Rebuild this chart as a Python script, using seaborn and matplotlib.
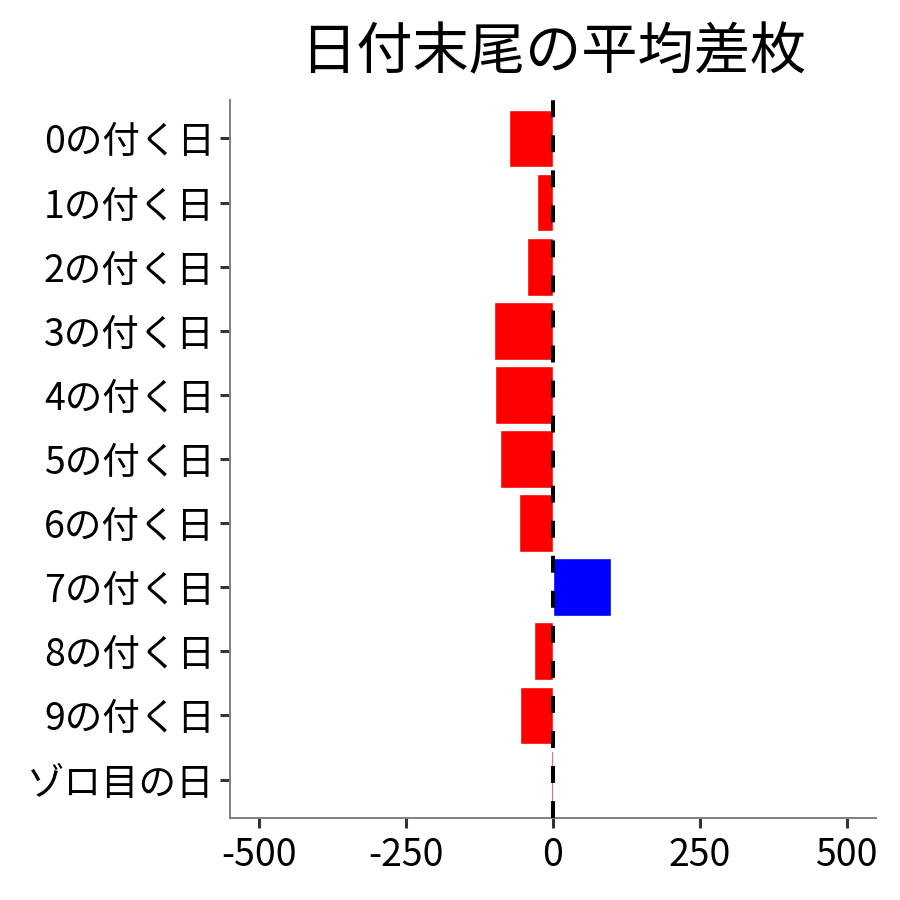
import seaborn as sns
import matplotlib.pyplot as plt
import pandas as pd

# data
labels = ["0の付く日", "1の付く日", "2の付く日", "3の付く日", "4の付く日",
          "5の付く日", "6の付く日", "7の付く日", "8の付く日", "9の付く日", "ゾロ目の日"]
diffs = [-75, -27, -44, -100, -99, -90, -58, 99, -33, -57, -3]
xticks = [-500, -250, 0, 250, 500]

df = pd.DataFrame({"label": labels, "diff": diffs})
df["sign"] = ["plus" if v > 0 else "minus" for v in diffs]

sns.set_style("white")
plt.rcParams["font.family"] = ["Noto Sans CJK JP", "DejaVu Sans"]

fig = plt.figure(figsize=(9, 9), dpi=100)
ax = fig.add_axes([0.2556, 0.0911, 0.7177, 0.7978])

sns.barplot(data=df, x="diff", y="label", hue="sign", order=labels,
            palette={"plus": "#0000ff", "minus": "#ff0000"},
            width=0.9, dodge=False, legend=False, saturation=1, ax=ax)

# zero reference line
ax.axvline(0, color="black", lw=2.9, linestyle=(0, (4.2, 4.5)), zorder=5)

ax.set_xlim(-550, 550)
ax.set_ylim(10.6, -0.6)
ax.set_xticks(xticks)
ax.set_xticklabels([str(t) for t in xticks])
ax.set_xlabel("")
ax.set_ylabel("")

sns.despine(ax=ax)
for side in ["left", "bottom"]:
    ax.spines[side].set_color("#808080")
    ax.spines[side].set_linewidth(1.4)
ax.tick_params(axis="both", bottom=True, left=True, length=7, width=2.2,
               color="#333333", labelsize=27, labelcolor="black", pad=4)
ax.tick_params(axis="x", pad=6)

ax.set_title("日付末尾の平均差枚", fontsize=40.5, pad=22, color="black")

plt.savefig("out.png", dpi=100)
